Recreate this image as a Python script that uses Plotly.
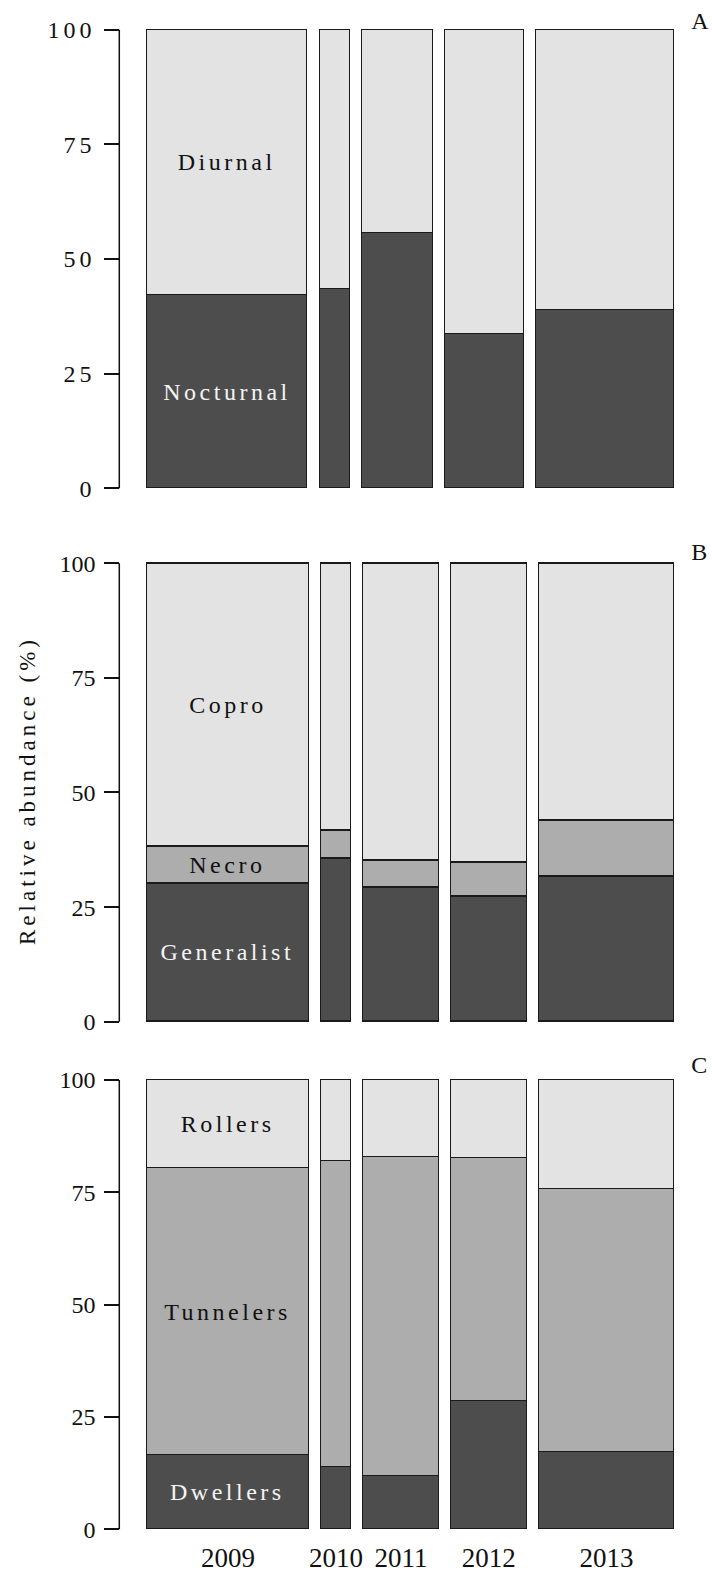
import plotly.graph_objects as go

# Canvas size in pixels
W, H = 712, 1573

years = ["2009", "2010", "2011", "2012", "2013"]

# Relative bar widths (sampling effort per year) for each panel
widths_diel = [160.6, 30.0, 70.4, 78.7, 137.7]
widths_guild = [162.6, 29.7, 76.0, 76.0, 135.3]

# A: diel activity (%)
nocturnal = [42.1, 43.4, 55.6, 33.6, 39.0]
diurnal = [57.9, 56.6, 44.4, 66.4, 61.0]

# B: feeding guild (%)
generalist = [30.2, 35.5, 29.2, 27.4, 31.6]
necro = [8.0, 6.2, 6.0, 7.3, 12.2]
copro = [61.8, 58.3, 64.8, 65.3, 56.2]

# C: nesting behaviour (%)
dwellers = [16.4, 13.9, 11.7, 28.4, 17.1]
tunnelers = [63.9, 67.9, 71.2, 54.2, 58.5]
rollers = [19.7, 18.2, 17.1, 17.4, 24.4]

DARK, MID, LIGHT = "#4d4d4d", "#adadad", "#e3e3e3"
TXT_DARK, TXT_LIGHT = "#111111", "#f4f4f4"
SERIF = "Liberation Serif, Times New Roman, serif"

# Pixel geometry of the three panels
BAR_LEFT, BAR_RIGHT = 146.7, 674.1
AXIS_X = 119.3

panels = [
    dict(widths=widths_diel, gap=12.5, px0=488.3, px100=29.7, letter="A", letter_y=20.5,
         series=[("Nocturnal", nocturnal, DARK, TXT_LIGHT),
                 ("Diurnal", diurnal, LIGHT, TXT_DARK)]),
    dict(widths=widths_guild, gap=12.0, px0=1021.7, px100=563.3, letter="B", letter_y=551.7,
         series=[("Generalist", generalist, DARK, TXT_LIGHT),
                 ("Necro", necro, MID, TXT_DARK),
                 ("Copro", copro, LIGHT, TXT_DARK)]),
    dict(widths=widths_guild, gap=12.0, px0=1529.3, px100=1080.0, letter="C", letter_y=1065.0,
         series=[("Dwellers", dwellers, DARK, TXT_LIGHT),
                 ("Tunnelers", tunnelers, MID, TXT_DARK),
                 ("Rollers", rollers, LIGHT, TXT_DARK)]),
]

fig = go.Figure()
annotations = []
shapes = []

# axis title first so it gets annotation index 0
annotations.append(dict(
    text="Relative abundance (%)", xref="paper", yref="paper",
    x=27 / W, y=1 - 791 / H, textangle=-90, showarrow=False,
    xanchor="center", yanchor="middle",
    font=dict(family=SERIF, size=23, color=TXT_DARK)))

layout_axes = {}
for i, p in enumerate(panels):
    sfx = "" if i == 0 else str(i + 1)
    xa, ya = "x" + sfx, "y" + sfx

    # bar centres from cumulative widths
    centers, pos = [], 0.0
    for w in p["widths"]:
        centers.append(pos + w / 2)
        pos += w + p["gap"]
    total = pos - p["gap"]

    # stacked segments
    for name, vals, col, _ in p["series"]:
        fig.add_trace(go.Bar(
            x=centers, y=vals, width=p["widths"], name=name,
            marker=dict(color=col, line=dict(color="#1a1a1a", width=1.4)),
            xaxis=xa, yaxis=ya, showlegend=False, hoverinfo="skip"))

    # category labels centred in the first bar's segments
    base = 0.0
    for name, vals, _, tcol in p["series"]:
        mid = base + vals[0] / 2
        base += vals[0]
        annotations.append(dict(
            text=name, xref=xa, yref=ya, x=centers[0], y=mid, showarrow=False,
            xanchor="center", yanchor="middle",
            font=dict(family=SERIF, size=24, color=tcol)))

    # panel letter
    annotations.append(dict(
        text=p["letter"], xref="paper", yref="paper", x=691 / W, y=1 - p["letter_y"] / H,
        xanchor="left", yanchor="middle", showarrow=False,
        font=dict(family=SERIF, size=24, color=TXT_DARK)))

    # axis domains
    pad_y = 0.6
    k = (p["px0"] - p["px100"]) / 100.0
    bot = p["px0"] + pad_y * k
    top = p["px100"] - pad_y * k
    pad_x = 1.5
    s = (BAR_RIGHT - BAR_LEFT) / total
    x_dom = [(BAR_LEFT - pad_x * s) / W, (BAR_RIGHT + pad_x * s) / W]

    last = i == len(panels) - 1
    layout_axes["xaxis" + sfx] = dict(
        domain=x_dom, range=[-pad_x, total + pad_x], anchor=ya, automargin=False,
        showgrid=False, zeroline=False, showline=False, ticks="",
        showticklabels=last, tickmode="array", tickvals=centers, ticktext=years,
        tickfont=dict(family=SERIF, size=27, color=TXT_DARK), ticklabelstandoff=7)
    layout_axes["yaxis" + sfx] = dict(
        domain=[1 - bot / H, 1 - top / H], range=[-pad_y, 100 + pad_y],
        anchor="free", position=AXIS_X / W, automargin=False,
        showgrid=False, zeroline=False, showline=False,
        tickmode="array", tickvals=[0, 25, 50, 75, 100],
        ticks="outside", ticklen=15, tickwidth=1.5, tickcolor="#111111",
        tickfont=dict(family=SERIF, size=24, color=TXT_DARK), ticklabelstandoff=4)

    # y axis line spanning 0-100
    shapes.append(dict(type="line", xref="paper", yref=ya,
                       x0=AXIS_X / W, x1=AXIS_X / W, y0=0, y1=100,
                       line=dict(color="#111111", width=1.5)))

fig.update_layout(
    width=W, height=H, margin=dict(l=0, r=0, t=0, b=0, pad=0), autosize=False,
    paper_bgcolor="white", plot_bgcolor="white",
    barmode="stack", bargap=0,
    annotations=annotations, shapes=shapes,
    **layout_axes)

# loose letter spacing of the serif labels
spacing_css = """
var st = document.createElement('style');
st.textContent = '.ytick text {letter-spacing:4px;} .annotation text {letter-spacing:3.5px;} .annotation[data-index="0"] text {letter-spacing:4px;}';
document.head.appendChild(st);
"""

fig.write_html("out.html", post_script=spacing_css)
